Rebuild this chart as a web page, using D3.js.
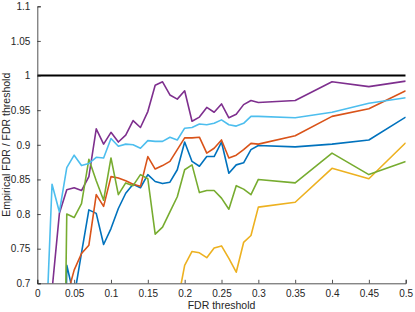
<!DOCTYPE html>
<html>
<head>
<meta charset="utf-8">
<script src="https://d3js.org/d3.v7.min.js"></script>
<style>
  body { margin: 0; background: #fff; }
  text { font-family: "Liberation Sans", Arial, sans-serif; }
</style>
</head>
<body>
<div id="chart"></div>
<script>
// Define SVG area dimensions
const svgWidth = 415;
const svgHeight = 312;

const chartMargin = { top: 6.3, right: 9.3, bottom: 28.7, left: 37.3 };
const chartWidth = svgWidth - chartMargin.left - chartMargin.right;
const chartHeight = svgHeight - chartMargin.top - chartMargin.bottom;

// FDR thresholds (x values)
const thresholds = [0.01, 0.02, 0.03, 0.04, 0.05, 0.06, 0.07, 0.08, 0.09, 0.10,
  0.11, 0.12, 0.13, 0.14, 0.15, 0.16, 0.17, 0.18, 0.19, 0.20,
  0.21, 0.22, 0.23, 0.24, 0.25, 0.26, 0.27, 0.28, 0.29, 0.30,
  0.35, 0.40, 0.45, 0.50];

// series values (empirical FDR / FDR threshold)
const blueVals = [null, null, 0, 0.726, 0.68, 0.744, 0.806, 0.801, 0.756, 0.779,
  0.808, 0.830, 0.843, 0.838, 0.857, 0.847, 0.844, 0.846, 0.864, 0.904,
  0.876, 0.869, 0.883, 0.883, 0.904, 0.859, 0.871, 0.874, 0.893, 0.899,
  0.897, 0.901, 0.907, 0.940];
const orangeVals = [null, null, null, 0.68, 0.719, 0.743, 0.755, 0.828, 0.811, 0.854,
  0.852, 0.848, 0.843, 0.840, 0.883, 0.865, 0.870, 0.876, 0.893, 0.910,
  0.910, 0.911, 0.888, 0.895, 0.907, 0.881, 0.885, 0.893, 0.902, 0.901,
  0.913, 0.941, 0.952, 0.978];
const yellowVals = [null, null, null, null, null, null, null, null, null, null,
  null, null, null, null, null, null, null, null, 0.67, 0.726,
  0.746, 0.744, 0.737, 0.751, 0.754, 0.736, 0.716, 0.759, 0.769, 0.810,
  0.817, 0.866, 0.851, 0.903];
const purpleVals = [null, 0.69, 0.801, 0.835, 0.838, 0.834, 0.854, 0.923, 0.901, 0.918,
  0.904, 0.914, 0.935, 0.925, 0.948, 0.986, 0.991, 0.972, 0.966, 0.978,
  0.934, 0.940, 0.954, 0.947, 0.959, 0.939, 0.944, 0.958, 0.964, 0.961,
  0.964, 0.991, 0.984, 0.992];
const greenVals = [null, null, 0, 0.800, 0.795, 0.815, 0.879, 0.848, 0.820, 0.881,
  0.828, 0.845, 0.841, 0.857, 0.851, 0.771, 0.781, 0.803, 0.825, 0.864,
  0.871, 0.831, 0.834, 0.834, 0.823, 0.807, 0.841, 0.836, 0.828, 0.850,
  0.845, 0.888, 0.857, 0.876];
const lightBlueVals = [0.58, 0.843, 0.803, 0.867, 0.885, 0.870, 0.873, 0.882, 0.881, 0.909,
  0.898, 0.901, 0.900, 0.895, 0.906, 0.905, 0.905, 0.911, 0.907, 0.924,
  0.925, 0.930, 0.929, 0.931, 0.936, 0.929, 0.927, 0.931, 0.941, 0.941,
  0.939, 0.947, 0.960, 0.968];

// tick values
const xTicks = [0, 0.05, 0.1, 0.15, 0.2, 0.25, 0.3, 0.35, 0.4, 0.45, 0.5];
const yTicks = [0.7, 0.75, 0.8, 0.85, 0.9, 0.95, 1, 1.05, 1.1];

const seriesList = [
  { vals: blueVals, color: '#0072BD' },
  { vals: orangeVals, color: '#D95319' },
  { vals: yellowVals, color: '#EDB120' },
  { vals: purpleVals, color: '#7E2F8E' },
  { vals: greenVals, color: '#77AC30' },
  { vals: lightBlueVals, color: '#4DBEEE' }
];

const svg = d3.select('#chart')
  .append('svg')
  .attr('width', svgWidth)
  .attr('height', svgHeight);

const chartGroup = svg.append('g')
  .attr('transform', `translate(${chartMargin.left}, ${chartMargin.top})`);

const xScale = d3.scaleLinear().domain([0, 0.5]).range([0, chartWidth]);
const yScale = d3.scaleLinear().domain([0.7, 1.1]).range([chartHeight, 0]);

// clip lines to the axes box
svg.append('defs').append('clipPath')
  .attr('id', 'plotClip')
  .append('rect')
  .attr('width', chartWidth)
  .attr('height', chartHeight);

const plotArea = chartGroup.append('g').attr('clip-path', 'url(#plotClip)');

const line = d3.line()
  .defined(d => d.y !== null)
  .x(d => xScale(d.x))
  .y(d => yScale(d.y));

seriesList.forEach(s => {
  const pts = thresholds.map((x, i) => ({ x: x, y: s.vals[i] }));
  plotArea.append('path')
    .datum(pts)
    .attr('fill', 'none')
    .attr('stroke', s.color)
    .attr('stroke-width', 1.6)
    .attr('stroke-linejoin', 'round')
    .attr('d', line);
});

// reference line at 1
plotArea.append('path')
  .datum([{ x: 0, y: 1 }, { x: 0.5, y: 1 }])
  .attr('fill', 'none')
  .attr('stroke', '#000')
  .attr('stroke-width', 2)
  .attr('d', line);

// axes, ticks pointing inward
const xAxis = d3.axisBottom(xScale)
  .tickValues(xTicks)
  .tickSize(-3.5)
  .tickPadding(7)
  .tickFormat(d3.format('~g'));
const yAxis = d3.axisLeft(yScale)
  .tickValues(yTicks)
  .tickSize(-3.5)
  .tickPadding(7)
  .tickFormat(d3.format('~g'));

const gx = chartGroup.append('g')
  .attr('transform', `translate(0, ${chartHeight})`)
  .call(xAxis);
const gy = chartGroup.append('g').call(yAxis);

[gx, gy].forEach(g => {
  g.select('.domain').attr('stroke', '#262626').attr('stroke-width', 0.8);
  g.selectAll('.tick line').attr('stroke', '#262626').attr('stroke-width', 0.8);
  g.selectAll('.tick text')
    .attr('fill', '#262626')
    .style('font-size', '10px')
    .style('font-family', '"Liberation Sans", Arial, sans-serif');
});

// axis labels
chartGroup.append('text')
  .text('FDR threshold')
  .attr('text-anchor', 'middle')
  .attr('fill', '#262626')
  .style('font-size', '10.5px')
  .attr('transform', `translate(${chartWidth / 2}, ${chartHeight + 26})`);

chartGroup.append('text')
  .text('Empirical FDR / FDR threshold')
  .attr('text-anchor', 'middle')
  .attr('fill', '#262626')
  .style('font-size', '10.5px')
  .attr('transform', `translate(-27.5, ${chartHeight / 2}) rotate(-90)`);
</script>
</body>
</html>
